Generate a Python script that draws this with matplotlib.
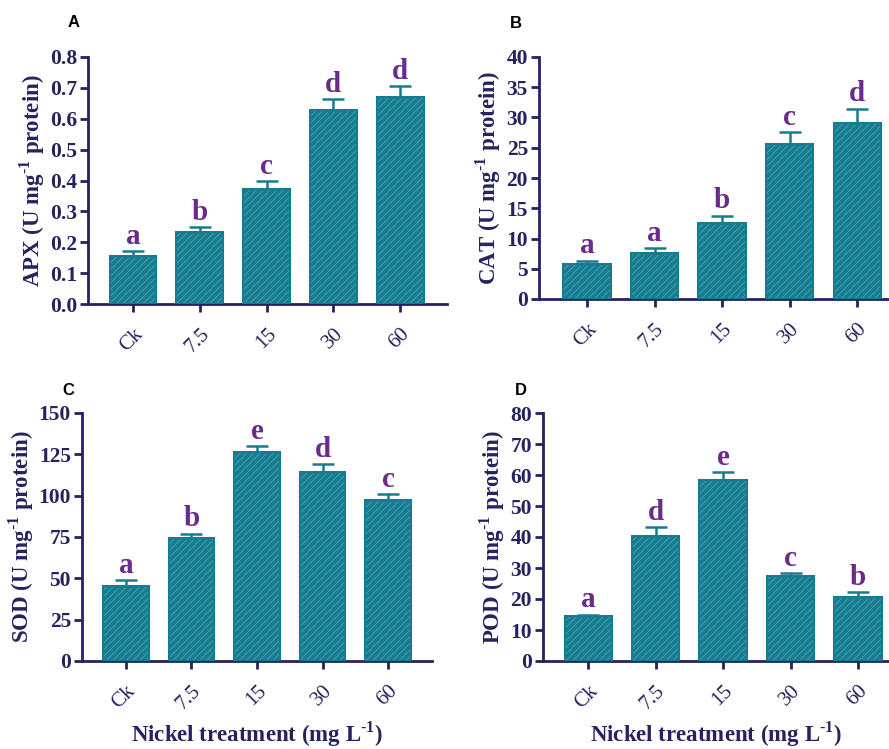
import numpy as np
import matplotlib
matplotlib.use('Agg')
from matplotlib import pyplot as plt

treatments = ['Ck', '7.5', '15', '30', '60']

apx = [0.157, 0.232, 0.373, 0.629, 0.672]
apx_err = [0.014, 0.016, 0.025, 0.035, 0.033]
apx_letters = ['a', 'b', 'c', 'd', 'd']

cat = [5.85, 7.56, 12.64, 25.66, 29.14]
cat_err = [0.5, 0.83, 1.16, 1.94, 2.32]
cat_letters = ['a', 'a', 'b', 'c', 'd']

sod = [45.6, 74.3, 126.6, 114.3, 97.3]
sod_err = [3.1, 2.8, 3.4, 4.6, 3.7]
sod_letters = ['a', 'b', 'e', 'd', 'c']

pod = [14.4, 40.2, 58.3, 27.3, 20.7]
pod_err = [0.5, 3.0, 2.6, 1.1, 1.4]
pod_letters = ['a', 'd', 'e', 'c', 'b']

navy = '#25235f'
teal = '#167c90'
stripe = '#3e98aa'
purple = '#6a2c8c'

plt.rcParams['font.family'] = 'Liberation Serif'
plt.rcParams['mathtext.fontset'] = 'custom'
plt.rcParams['mathtext.rm'] = 'Liberation Serif:bold'
plt.rcParams['mathtext.bf'] = 'Liberation Serif:bold'
plt.rcParams['hatch.linewidth'] = 0.9
plt.rcParams['hatch.color'] = stripe

fig = plt.figure(figsize=(8.89, 7.49), dpi=100)

W, H = 889.0, 749.0
def add_ax(x0, x1, ytop, ybot):
    return fig.add_axes([x0 / W, 1 - ybot / H, (x1 - x0) / W, (ybot - ytop) / H])

panels = [
    # axes box in pixels, xlim, ymax, ticks, tick format, data
    (add_ax(88, 447, 57, 304), (-0.674, 4.70), 0.8, np.arange(0, 0.81, 0.1), '%.1f',
     'APX', apx, apx_err, apx_letters, 'A', False),
    (add_ax(539, 889, 57, 299), (-0.71, 4.47), 40, np.arange(0, 41, 5), '%d',
     'CAT', cat, cat_err, cat_letters, 'B', False),
    (add_ax(82, 432, 413, 661), (-0.67, 4.67), 150, np.arange(0, 151, 25), '%d',
     'SOD', sod, sod_err, sod_letters, 'C', True),
    (add_ax(543, 889, 413, 661), (-0.67, 4.46), 80, np.arange(0, 81, 10), '%d',
     'POD', pod, pod_err, pod_letters, 'D', True),
]

sup = r'$^{\text{-1}}$'

x = np.arange(len(treatments))
for ax, xlim, ymax, yticks, fmt, name, vals, errs, letters, tag, xlab in panels:
    # filled bars with light diagonal stripes, then a teal outline on top
    ax.bar(x, vals, width=0.7, color=teal, edgecolor=stripe, hatch='/////',
           linewidth=0, zorder=2)
    ax.bar(x, vals, width=0.7, facecolor='none', edgecolor=teal, linewidth=1.5,
           zorder=3)
    ax.errorbar(x, vals, yerr=[np.zeros(len(vals)), errs], fmt='none',
                ecolor=teal, elinewidth=1.8, capsize=8, capthick=1.8, zorder=4)
    for xi, v, e, lt in zip(x, vals, errs, letters):
        ax.annotate(lt, (xi, v + e), xytext=(0, 1), textcoords='offset points',
                    ha='center', va='bottom', fontsize=21, fontweight='bold',
                    color=purple)

    ax.set_xlim(*xlim)
    ax.set_ylim(0, ymax)
    ax.set_yticks(yticks)
    ax.set_yticklabels([fmt % t for t in yticks], fontsize=15.5, fontweight='bold',
                       color=navy)
    ax.set_xticks(x)
    ax.set_xticklabels(treatments, rotation=45, ha='right', rotation_mode='anchor',
                       fontsize=15, color=navy)
    ax.tick_params(axis='both', colors=navy, width=2, length=6)
    ax.tick_params(axis='x', pad=9)
    ax.tick_params(axis='y', pad=2)
    for s in ['top', 'right']:
        ax.spines[s].set_visible(False)
    for s in ['left', 'bottom']:
        ax.spines[s].set_color(navy)
        ax.spines[s].set_linewidth(2)
    ax.set_ylabel(name + ' (U mg' + sup + ' protein)', fontsize=16.5,
                  fontweight='bold', color=navy, labelpad=2)
    if xlab:
        pos = ax.get_position()
        fig.text((pos.x0 + pos.x1) / 2, 1 - 734 / H,
                 'Nickel treatment (mg L' + sup + ')', fontsize=16.5,
                 fontweight='bold', color=navy, ha='center', va='center')
    ax.text(-0.04 if tag in 'AC' else -0.065, 1.14 if tag in 'AB' else 1.09, tag,
            transform=ax.transAxes, fontsize=12, fontweight='bold',
            family='Liberation Sans', ha='center', va='center')

fig.savefig('out.png', dpi=100)
